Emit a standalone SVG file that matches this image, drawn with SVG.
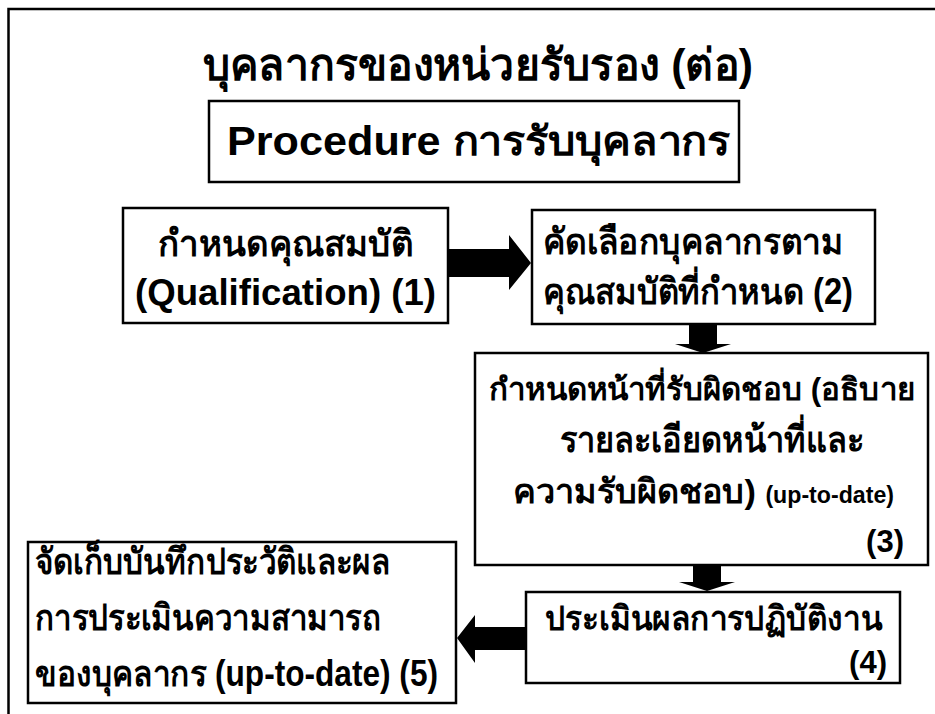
<svg xmlns="http://www.w3.org/2000/svg" width="935" height="714" viewBox="0 0 935 714">
<style>
.box{fill:#fff;stroke:#000;stroke-width:2.5}
.t{font-family:"Liberation Sans","Noto Sans","DejaVu Sans",sans-serif;font-weight:bold;fill:#000}
.th{font-size:36px}
.num{font-size:31px}
.arr{fill:#000}
</style>
<rect x="8.5" y="9" width="940" height="720" fill="#fff" stroke="#000" stroke-width="2.5"/>
<g id="title">
<text class="t" x="203" y="80" font-size="44" textLength="550" lengthAdjust="spacingAndGlyphs">บุคลากรของหน่วยรับรอง (ต่อ)</text>
</g>
<g id="procedure">
<rect class="box" x="209" y="101" width="530" height="81"/>
<text class="t" x="227" y="155" font-size="40" textLength="503" lengthAdjust="spacingAndGlyphs">Procedure การรับบุคลากร</text>
</g>
<g id="n1">
<rect class="box" x="123" y="208" width="325" height="115"/>
<text class="t th" x="158" y="256" textLength="255" lengthAdjust="spacingAndGlyphs">กำหนดคุณสมบัติ</text>
<text class="t th" x="135" y="305" textLength="301" lengthAdjust="spacingAndGlyphs">(Qualification) (1)</text>
</g>
<g id="n2">
<rect class="box" x="532" y="210" width="343" height="114"/>
<text class="t th" x="543" y="254" textLength="300" lengthAdjust="spacingAndGlyphs">คัดเลือกบุคลากรตาม</text>
<text class="t th" x="543" y="304" textLength="310" lengthAdjust="spacingAndGlyphs">คุณสมบัติที่กำหนด  (2)</text>
</g>
<g id="n3">
<rect class="box" x="475" y="353" width="453" height="212"/>
<text class="t" x="489" y="400" font-size="31" textLength="426" lengthAdjust="spacingAndGlyphs">กำหนดหน้าที่รับผิดชอบ (อธิบาย</text>
<text class="t th" x="560" y="452" textLength="304" lengthAdjust="spacingAndGlyphs">รายละเอียดหน้าที่และ</text>
<text class="t" x="513" y="503" font-size="34" textLength="381" lengthAdjust="spacingAndGlyphs">ความรับผิดชอบ) <tspan font-size="23">(up-to-date)</tspan></text>
<text class="t num" x="904" y="552" text-anchor="end">(3)</text>
</g>
<g id="n4">
<rect class="box" x="526" y="592" width="374" height="91"/>
<text class="t" x="545" y="630" font-size="34" textLength="337" lengthAdjust="spacingAndGlyphs">ประเมินผลการปฏิบัติงาน</text>
<text class="t num" x="887" y="673" text-anchor="end">(4)</text>
</g>
<g id="n5">
<rect class="box" x="28" y="542" width="428" height="161"/>
<text class="t th" x="35" y="574" textLength="355" lengthAdjust="spacingAndGlyphs">จัดเก็บบันทึกประวัติและผล</text>
<text class="t th" x="35" y="630" textLength="346" lengthAdjust="spacingAndGlyphs">การประเมินความสามารถ</text>
<text class="t th" x="35" y="686" textLength="403" lengthAdjust="spacingAndGlyphs">ของบุคลากร (up-to-date)  (5)</text>
</g>
<g id="connectors">
<polygon class="arr" points="448,249 509,249 509,235 531,263 509,290 509,277 448,277"/>
<polygon class="arr" points="689,323 717,323 717,344 731,344 703,353 675,344 689,344"/>
<polygon class="arr" points="693,565 721,565 721,582 735,582 707,591 679,582 693,582"/>
<polygon class="arr" points="526,627 475,627 475,615 457,638 475,663 475,650 526,650"/>
</g>
</svg>
